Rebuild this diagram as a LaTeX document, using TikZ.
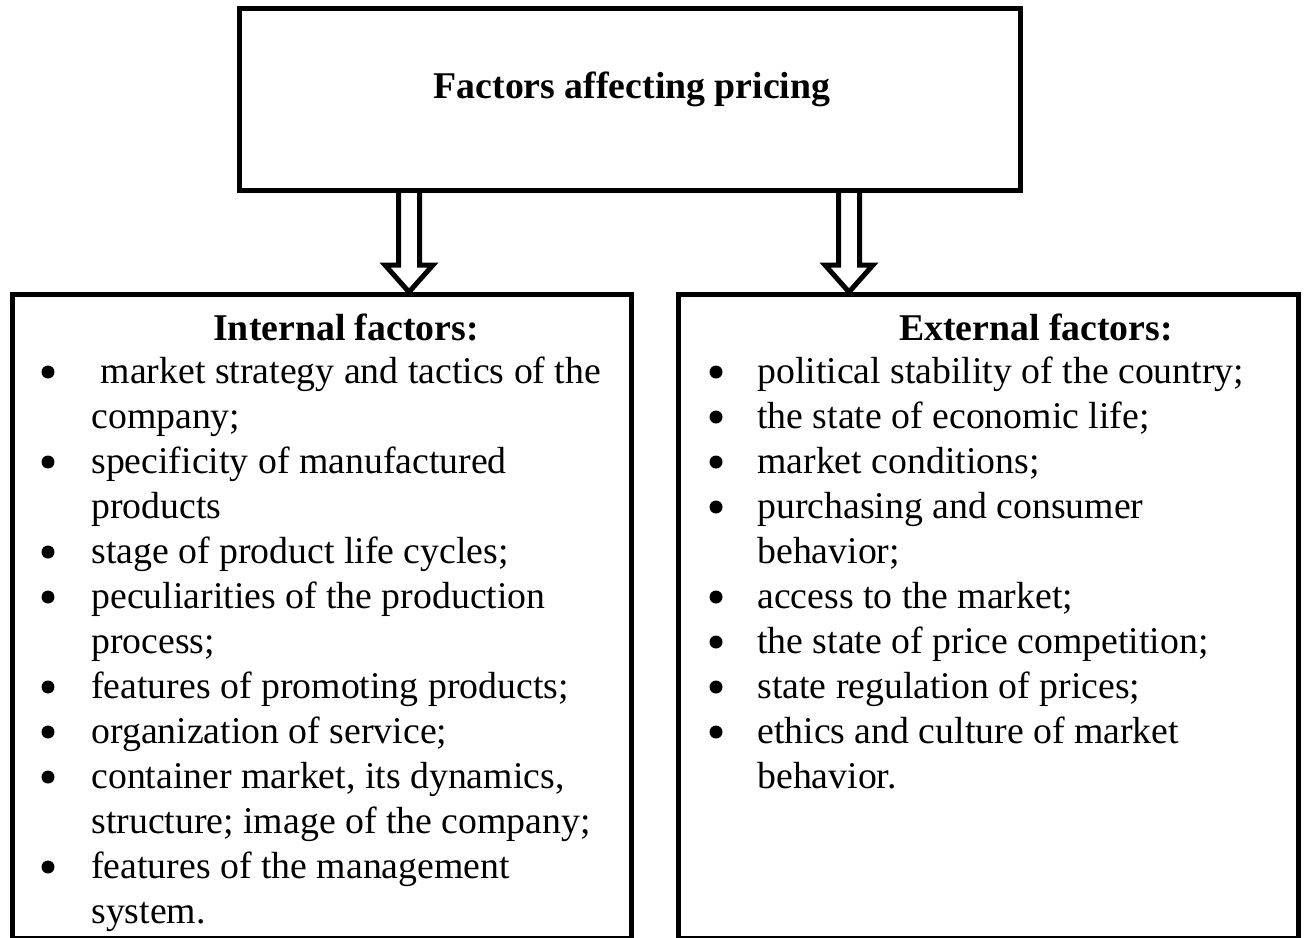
\documentclass[tikz,border=0pt]{standalone}
\usepackage{fontspec}
\setmainfont{Liberation Serif}
\usetikzlibrary{calc}
\tikzset{
  box/.style={draw, line width=0.1cm, inner sep=0pt},
  txt/.style={font=\fontsize{21.5}{25.51}\selectfont, inner sep=0pt},
  item/.style={txt, anchor=north west, align=left},
  dot/.style={circle, fill, inner sep=0pt, minimum size=0.26cm},
  head/.style={txt, font=\fontsize{21.5}{25.51}\selectfont\bfseries, anchor=base},
  hollow/.style={draw, line width=0.1cm, line join=miter}
}
\begin{document}
\begin{tikzpicture}[x=0.02cm,y=-0.02cm]
\useasboundingbox (0,0) rectangle (1308,937);
\node[box, minimum width=15.63cm, minimum height=3.65cm] (pricing) at (630.25,99.75) {};
\node[box, minimum width=12.4cm, minimum height=12.9cm] (internal) at (322,616.5) {};
\node[box, minimum width=12.42cm, minimum height=12.9cm] (external) at (988.5,616.5) {};
\node[head] (title) at (632,98) {Factors affecting pricing};
\node[head] (inthead) at (346,340) {Internal factors:};
\node[head] (exthead) at (1036,340) {External factors:};
\coordinate (la) at (409,191);
\coordinate (lb) at (409,292);
\coordinate (ra) at (849,191);
\coordinate (rb) at (849,292);
\draw[hollow] ($(la)+(-10.5,0)$) -- ++(0,74) -- ++(-13.5,0) -- (lb) -- ++(24,-27) -- ++(-13.5,0) -- ++(0,-74);
\draw[hollow] ($(ra)+(-10.5,0)$) -- ++(0,74) -- ++(-13.5,0) -- (rb) -- ++(24,-27) -- ++(-13.5,0) -- ++(0,-74);
\foreach \n/\k/\t in {1/0/{\ market strategy and tactics of the\\company;},
    2/2/{specificity of manufactured\\products},
    3/4/{stage of product life cycles;},
    4/5/{peculiarities of the production\\process;},
    5/7/{features of promoting products;},
    6/8/{organization of service;},
    7/9/{container market, its dynamics,\\structure; image of the company;},
    8/11/{features of the management\\system.}}{
  \node[dot] (intb\n) at (48,{372+45*\k}) {};
  \node[item] (int\n) at (91,{351.5+45*\k}) {\strut\t};
}
\foreach \n/\k/\t in {1/0/{political stability of the country;},
    2/1/{the state of economic life;},
    3/2/{market conditions;},
    4/3/{purchasing and consumer\\behavior;},
    5/5/{access to the market;},
    6/6/{the state of price competition;},
    7/7/{state regulation of prices;},
    8/8/{ethics and culture of market\\behavior.}}{
  \node[dot] (extb\n) at (716,{372+45*\k}) {};
  \node[item] (ext\n) at (757,{351.5+45*\k}) {\strut\t};
}
\end{tikzpicture}
\end{document}
